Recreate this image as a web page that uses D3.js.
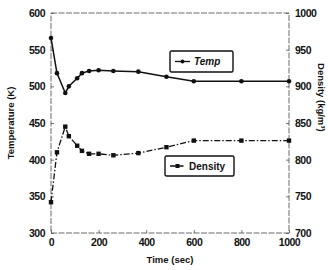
<!DOCTYPE html>
<html>
<head>
<meta charset="utf-8">
<script src="https://cdn.jsdelivr.net/npm/d3@7"></script>
<style>
  body { margin: 0; background: #fff; }
  text { font-family: "Liberation Sans", Arial, sans-serif; font-weight: bold; fill: #111; }
</style>
</head>
<body>
<div id="vis"></div>
<script>
// data
const times = [0, 25, 60, 75, 110, 130, 160, 200, 262, 367, 485, 600, 800, 1000]
const temp = [566, 518, 491, 500, 511, 518, 521, 522, 521, 520, 513, 507, 507, 507]
const density = [742, 810, 845, 832, 819, 812, 808, 808, 806, 809, 817, 826, 826, 826]
const timeTicks = [0, 200, 400, 600, 800, 1000]
const tempTicks = [300, 350, 400, 450, 500, 550, 600]
const densTicks = [700, 750, 800, 850, 900, 950, 1000]

const margin = {left: 51, top: 13, right: 39, bottom: 37}
const W = 328, H = 270
const width = W - margin.left - margin.right
const height = H - margin.top - margin.bottom

let svg = d3.select('#vis').append('svg')
    .attr('width', W)
    .attr('height', H)

let x = d3.scaleLinear().domain([0, 1000]).range([margin.left, margin.left + width])
let yT = d3.scaleLinear().domain([300, 600]).range([margin.top + height, margin.top])
let yD = d3.scaleLinear().domain([700, 1000]).range([margin.top + height, margin.top])

// faint dotted frame
svg.append('rect')
    .attr('x', margin.left).attr('y', margin.top)
    .attr('width', width).attr('height', height)
    .attr('fill', 'none')
    .attr('stroke', '#444')
    .attr('stroke-width', 0.8)
    .attr('stroke-dasharray', '6,1.5')

// axes
let fmt = d3.format('d')
let xAxis = svg.append('g')
    .attr('transform', `translate(0, ${margin.top + height})`)
    .call(d3.axisBottom(x).tickValues(timeTicks).tickFormat(fmt).tickSize(-3).tickPadding(6))
let yAxisL = svg.append('g')
    .attr('transform', `translate(${margin.left}, 0)`)
    .call(d3.axisLeft(yT).tickValues(tempTicks).tickFormat(fmt).tickSize(-3).tickPadding(6))
let yAxisR = svg.append('g')
    .attr('transform', `translate(${margin.left + width}, 0)`)
    .call(d3.axisRight(yD).tickValues(densTicks).tickFormat(fmt).tickSize(-3).tickPadding(6))

;[xAxis, yAxisL, yAxisR].forEach(g => {
    g.call(g => g.select('.domain').remove())
    g.selectAll('.tick line').attr('stroke', '#555').attr('stroke-width', 0.8)
    g.selectAll('.tick text')
        .attr('font-size', '10.5px')
        .attr('font-family', '"Liberation Sans", Arial, sans-serif')
        .attr('font-weight', 'bold')
        .attr('fill', '#111')
        .attr('letter-spacing', '-0.5px')
})

// axis titles
svg.append('text')
    .attr('x', x(500))
    .attr('y', 263)
    .attr('text-anchor', 'middle')
    .attr('font-size', '9.5px')
    .text('Time (sec)')

svg.append('text')
    .attr('transform', `translate(14, ${yT(450)}) rotate(-90)`)
    .attr('text-anchor', 'middle')
    .attr('font-size', '9.5px')
    .text('Temperature (K)')

svg.append('text')
    .attr('transform', `translate(318, ${yD(885)}) rotate(90)`)
    .attr('text-anchor', 'middle')
    .attr('font-size', '9.5px')
    .text('Density (kg/m\u00b3)')

// series
let rows = times.map((t, i) => ({t: t, temp: temp[i], dens: density[i]}))

let lineT = d3.line().x(d => x(d.t)).y(d => yT(d.temp))
let lineD = d3.line().x(d => x(d.t)).y(d => yD(d.dens))

svg.append('path')
    .datum(rows)
    .attr('d', lineT)
    .attr('fill', 'none')
    .attr('stroke', '#111')
    .attr('stroke-width', 1.5)

svg.append('path')
    .datum(rows)
    .attr('d', lineD)
    .attr('fill', 'none')
    .attr('stroke', '#111')
    .attr('stroke-width', 1.3)
    .attr('stroke-dasharray', '6,2,1.5,2')

svg.selectAll('.temp-dot')
    .data(rows)
    .enter()
    .append('circle')
        .attr('class', 'temp-dot')
        .attr('cx', d => x(d.t))
        .attr('cy', d => yT(d.temp))
        .attr('r', 2.3)
        .attr('fill', '#111')

svg.selectAll('.dens-dot')
    .data(rows)
    .enter()
    .append('rect')
        .attr('class', 'dens-dot')
        .attr('x', d => x(d.t) - 2.2)
        .attr('y', d => yD(d.dens) - 2.2)
        .attr('width', 4.4)
        .attr('height', 4.4)
        .attr('fill', '#111')

// legends
function legend(x0, y0, w, h, label, italic, dashed, square){
    let g = svg.append('g').attr('transform', `translate(${x0},${y0})`)
    g.append('rect')
        .attr('width', w).attr('height', h)
        .attr('rx', 1.5)
        .attr('fill', '#fff')
        .attr('stroke', '#111')
        .attr('stroke-width', 1.4)
    g.append('line')
        .attr('x1', 5).attr('x2', 20)
        .attr('y1', h / 2).attr('y2', h / 2)
        .attr('stroke', '#111')
        .attr('stroke-width', 1.3)
        .attr('stroke-dasharray', dashed ? '6,1.5' : null)
    if (square) {
        g.append('rect').attr('x', 10.5).attr('y', h / 2 - 2).attr('width', 4).attr('height', 4).attr('fill', '#111')
    } else {
        g.append('circle').attr('cx', 12.5).attr('cy', h / 2).attr('r', 2).attr('fill', '#111')
    }
    g.append('text')
        .attr('x', 24)
        .attr('y', h / 2 + 3.5)
        .attr('font-size', '10px')
        .attr('font-style', italic ? 'italic' : 'normal')
        .text(label)
}

legend(170, 51, 63, 21, 'Temp', true, false, false)
legend(165, 156, 69, 20, 'Density', false, true, true)
</script>
</body>
</html>
